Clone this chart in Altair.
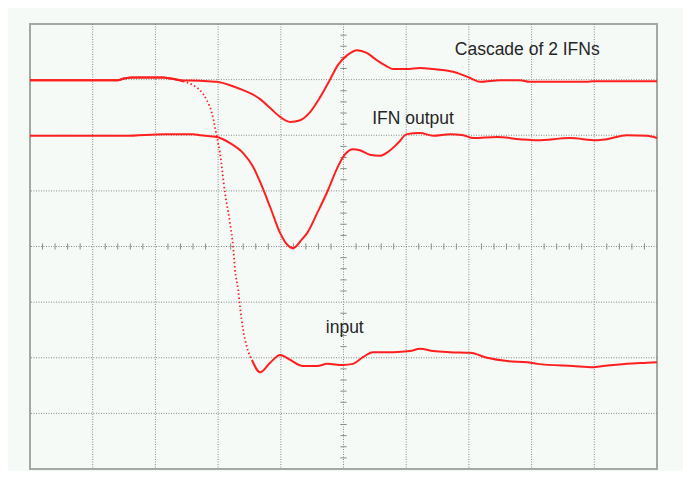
import altair as alt
import pandas as pd

# values in screen divisions (x: 0..10, y: -4..4)
cascade_x = [0, 1.40, 1.50, 1.64, 2.12, 2.25, 2.39, 2.71, 2.98, 3.19, 3.40, 3.59, 3.67, 3.83, 3.99, 4.15, 4.31, 4.47, 4.63, 4.78, 4.91, 5.06, 5.22, 5.37, 5.53, 5.69, 5.79, 6.01, 6.22, 6.43, 6.75, 7.02, 7.18, 7.50, 7.81, 7.97, 8.88, 8.98, 10.0]
cascade_y = [2.99, 2.99, 3.02, 3.04, 3.04, 3.02, 2.99, 2.98, 2.96, 2.90, 2.81, 2.71, 2.65, 2.49, 2.33, 2.24, 2.27, 2.42, 2.69, 2.99, 3.26, 3.44, 3.53, 3.48, 3.35, 3.24, 3.19, 3.19, 3.21, 3.19, 3.14, 3.03, 2.96, 2.99, 2.99, 2.96, 2.96, 2.97, 2.97]

ifn_x = [0, 1.52, 2.15, 2.60, 2.71, 2.98, 3.19, 3.40, 3.56, 3.67, 3.83, 3.99, 4.07, 4.20, 4.33, 4.42, 4.58, 4.74, 4.90, 5.02, 5.15, 5.26, 5.42, 5.58, 5.71, 5.87, 6.01, 6.22, 6.43, 6.70, 6.91, 7.07, 7.45, 7.81, 8.09, 8.61, 9.04, 9.20, 9.52, 9.84, 10.0]
ifn_y = [1.99, 1.99, 2.02, 2.02, 2.00, 1.97, 1.86, 1.68, 1.43, 1.16, 0.71, 0.24, 0.08, -0.03, 0.12, 0.24, 0.60, 0.98, 1.41, 1.65, 1.75, 1.73, 1.65, 1.63, 1.70, 1.86, 2.02, 2.04, 1.99, 2.02, 2.00, 1.95, 1.97, 1.93, 1.91, 1.95, 1.91, 1.93, 2.00, 1.99, 1.95]

input_top_x = [0, 1.40, 1.50, 1.64, 2.12, 2.25, 2.39, 2.44]
input_top_y = [2.99, 2.99, 3.02, 3.04, 3.04, 3.02, 2.99, 2.97]
input_fall_x = [2.44, 2.60, 2.71, 2.82, 2.90, 2.95, 2.98, 3.03, 3.11, 3.19, 3.24, 3.27, 3.32, 3.35, 3.40, 3.46, 3.54]
input_fall_y = [2.97, 2.90, 2.81, 2.63, 2.40, 2.15, 1.97, 1.68, 0.96, 0.42, -0.01, -0.42, -0.78, -1.09, -1.50, -1.81, -2.04]
input_end_x = [3.54, 3.67, 3.83, 3.99, 4.15, 4.35, 4.58, 4.74, 4.99, 5.15, 5.31, 5.47, 5.79, 6.06, 6.22, 6.43, 6.70, 7.02, 7.29, 7.61, 7.93, 8.09, 8.66, 8.98, 9.14, 9.52, 9.84, 10.0]
input_end_y = [-2.04, -2.26, -2.09, -1.95, -2.04, -2.15, -2.15, -2.11, -2.13, -2.11, -1.99, -1.90, -1.90, -1.88, -1.84, -1.88, -1.90, -1.91, -2.00, -2.06, -2.08, -2.11, -2.15, -2.17, -2.15, -2.11, -2.09, -2.08]

grid_x = [1, 2, 3, 4, 5, 6, 7, 8, 9]
grid_y = [-3, -2, -1, 0, 1, 2, 3]
minor_x = [i / 5 for i in range(1, 50) if i % 5 != 0]
minor_y = [i / 5 - 4 for i in range(1, 40) if i % 5 != 0]

label_text = ["Cascade of 2 IFNs", "IFN output", "input"]
label_x = [7.93, 6.11, 5.02]
label_y = [3.53, 2.29, -1.47]

RED = "#ff1f1f"
GRID = "#868c86"
xs = alt.Scale(domain=[0, 10], nice=False, zero=False)
ys = alt.Scale(domain=[-4, 4], nice=False, zero=False)


def line(xv, yv, dash=None, width=2.0):
    df = pd.DataFrame({"x": xv, "y": yv, "o": list(range(len(xv)))})
    kw = dict(color=RED, strokeWidth=width, interpolate="monotone")
    if dash:
        kw["strokeDash"] = dash
    return alt.Chart(df).mark_line(**kw).encode(
        x=alt.X("x:Q", scale=xs, axis=None),
        y=alt.Y("y:Q", scale=ys, axis=None),
        order="o:Q",
    )


vgrid = alt.Chart(pd.DataFrame({"x": grid_x})).mark_rule(
    color=GRID, strokeWidth=1, strokeDash=[1, 1.5]
).encode(x=alt.X("x:Q", scale=xs, axis=None))
hgrid = alt.Chart(pd.DataFrame({"y": grid_y})).mark_rule(
    color=GRID, strokeWidth=1, strokeDash=[1, 1.5]
).encode(y=alt.Y("y:Q", scale=ys, axis=None))

xt = pd.DataFrame({"x": minor_x, "y1": [-0.055] * len(minor_x), "y2": [0.055] * len(minor_x)})
xticks = alt.Chart(xt).mark_rule(color=GRID, strokeWidth=1).encode(
    x=alt.X("x:Q", scale=xs, axis=None),
    y=alt.Y("y1:Q", scale=ys, axis=None),
    y2="y2:Q",
)
yt = pd.DataFrame({"y": minor_y, "x1": [4.95] * len(minor_y), "x2": [5.05] * len(minor_y)})
yticks = alt.Chart(yt).mark_rule(color=GRID, strokeWidth=1).encode(
    y=alt.Y("y:Q", scale=ys, axis=None),
    x=alt.X("x1:Q", scale=xs, axis=None),
    x2="x2:Q",
)

labels = alt.Chart(pd.DataFrame({"t": label_text, "x": label_x, "y": label_y})).mark_text(
    font="Liberation Sans", fontSize=17.5, color="#262626", align="center", baseline="middle"
).encode(
    x=alt.X("x:Q", scale=xs, axis=None),
    y=alt.Y("y:Q", scale=ys, axis=None),
    text="t:N",
)

chart = alt.layer(
    vgrid, hgrid, xticks, yticks,
    line(cascade_x, cascade_y),
    line(ifn_x, ifn_y),
    line(input_top_x, input_top_y),
    line(input_fall_x, input_fall_y, dash=[1.5, 2.5], width=1.8),
    line(input_end_x, input_end_y),
    labels,
).properties(
    width=627, height=445,
    autosize=alt.AutoSizeParams(type="none"),
    padding={"left": 22, "top": 16, "right": 26, "bottom": 2},
    background="#f5faf7",
).configure_view(stroke="#a2a8a2", strokeWidth=2, fill="#f5faf7")

chart.save("out.html", embed_options={"renderer": "svg", "actions": False})
